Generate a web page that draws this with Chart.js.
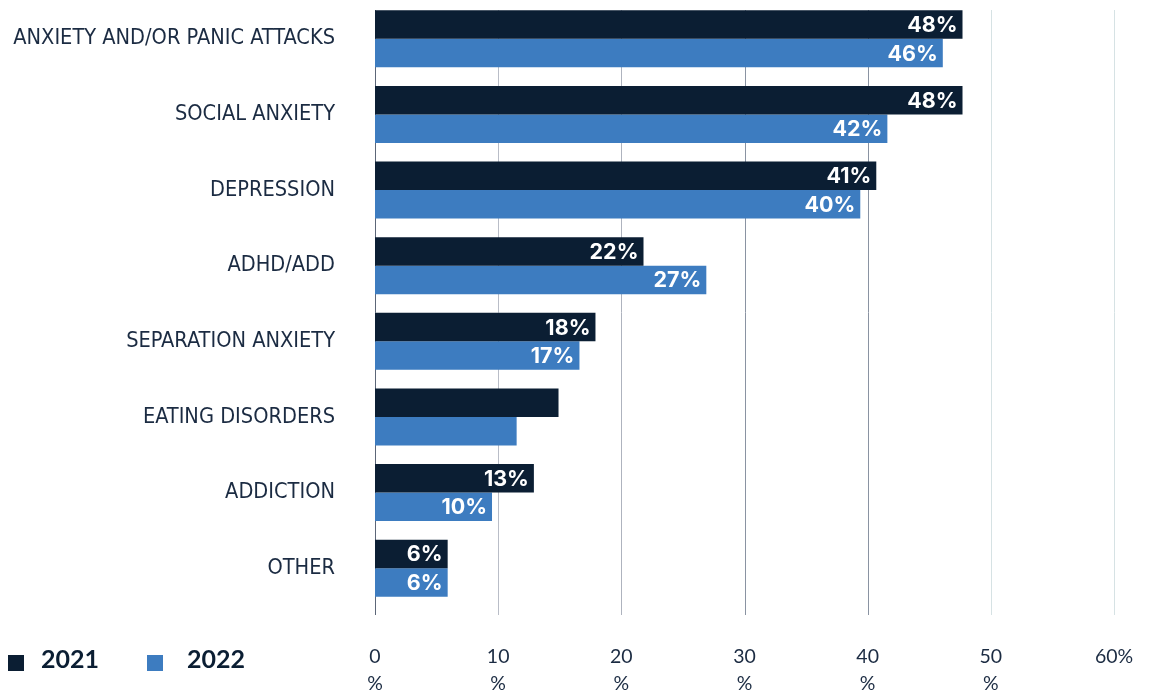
<!DOCTYPE html>
<html>
<head>
<meta charset="utf-8">
<script src="https://cdn.jsdelivr.net/npm/chart.js@4.4.1/dist/chart.umd.min.js"></script>
<style>
  html, body { margin: 0; padding: 0; background: #ffffff; }
  #wrap { width: 1151px; height: 692px; position: relative; }
</style>
</head>
<body>
<div id="wrap"><canvas id="myBarChart"></canvas></div>
<script>
// Dados do gráfico
const categories = [
  "ANXIETY AND/OR PANIC ATTACKS",
  "SOCIAL ANXIETY",
  "DEPRESSION",
  "ADHD/ADD",
  "SEPARATION ANXIETY",
  "EATING DISORDERS",
  "ADDICTION",
  "OTHER"
];
const seriesNames = ["2021", "2022"];
const values2021 = [47.7, 47.7, 40.7, 21.8, 17.9, 14.9, 12.9, 5.9];
const values2022 = [46.1, 41.6, 39.4, 26.9, 16.6, 11.5, 9.5, 5.9];
// valores impressos nas barras (null = sem rótulo)
const labels2021 = [48, 48, 41, 22, 18, null, 13, 6];
const labels2022 = [46, 42, 40, 27, 17, null, 10, 6];
const xTicks = [0, 10, 20, 30, 40, 50, 60];
const xTickLabels = [["0", "%"], ["10", "%"], ["20", "%"], ["30", "%"], ["40", "%"], ["50", "%"], "60%"];

// Cores
const navy = "#0b1e33";
const blue = "#3d7cc0";
const textColor = "#1b2b42";
const gridColors = ["#5c6678", "#b9bdc7", "#aeb3be", "#8a93a2", "#8a93a2", "#d6e2e4", "#d6e2e4"];

// linhas verticais da grade
const gridPlugin = {
  id: "customGrid",
  beforeDatasetsDraw(chart) {
    const ctx = chart.ctx;
    const x = chart.scales.x;
    ctx.save();
    ctx.lineWidth = 1;
    xTicks.forEach((v, i) => {
      const px = Math.round(x.getPixelForValue(v)) + 0.5;
      ctx.strokeStyle = gridColors[i];
      ctx.beginPath();
      ctx.moveTo(px, 10);
      ctx.lineTo(px, 615);
      ctx.stroke();
    });
    ctx.restore();
  }
};

// rótulos dentro das barras
const barLabels = [labels2021, labels2022];
const valueLabelPlugin = {
  id: "valueLabels",
  afterDatasetsDraw(chart) {
    const ctx = chart.ctx;
    ctx.save();
    ctx.fillStyle = "#ffffff";
    ctx.font = "bold 21.5px Inter";
    ctx.textAlign = "right";
    ctx.textBaseline = "middle";
    chart.data.datasets.forEach((ds, di) => {
      chart.getDatasetMeta(di).data.forEach((bar, i) => {
        const v = barLabels[di][i];
        if (v === null) return;
        ctx.fillText(v + "%", bar.x - 5, bar.y + 1);
      });
    });
    ctx.restore();
  }
};

// legenda no canto inferior esquerdo
const legendPlugin = {
  id: "bottomLegend",
  afterDraw(chart) {
    const ctx = chart.ctx;
    const items = [
      { box: 8, text: 41 },
      { box: 147, text: 187 }
    ];
    ctx.save();
    ctx.font = "bold 25px Lato";
    ctx.textBaseline = "middle";
    ctx.textAlign = "left";
    chart.data.datasets.forEach((ds, i) => {
      ctx.fillStyle = ds.backgroundColor;
      ctx.fillRect(items[i].box, 655, 16, 16);
      ctx.fillStyle = navy;
      ctx.fillText(ds.label, items[i].text, 660);
    });
    ctx.restore();
  }
};

let data = {
  labels: categories,
  datasets: [
    { label: seriesNames[0], data: values2021, backgroundColor: navy },
    { label: seriesNames[1], data: values2022, backgroundColor: blue }
  ]
};

let options = {
  indexAxis: "y",
  responsive: true,
  maintainAspectRatio: false,
  animation: false,
  layout: { padding: { top: 1, right: 37, bottom: 0, left: 0 } },
  datasets: {
    bar: { categoryPercentage: 0.754, barPercentage: 1.0 }
  },
  plugins: {
    legend: { display: false },
    tooltip: { enabled: false }
  },
  scales: {
    x: {
      min: 0,
      max: 60,
      afterBuildTicks: (scale) => { scale.ticks = xTicks.map(v => ({ value: v })); },
      afterFit: (scale) => {
        scale.height = 86;
        scale.paddingLeft = 0;
        scale.paddingRight = 0;
      },
      grid: { display: false, drawTicks: false },
      border: { display: false },
      ticks: {
        padding: 37,
        color: textColor,
        font: { family: "Lato", size: 19.5, lineHeight: 1.4 },
        maxRotation: 0,
        autoSkip: false,
        callback: (v, i) => xTickLabels[i]
      }
    },
    y: {
      afterFit: (scale) => {
        scale.width = 375;
        scale.paddingTop = 0;
        scale.paddingBottom = 0;
      },
      grid: { display: false, drawTicks: false },
      border: { display: false },
      ticks: {
        padding: 40,
        color: textColor,
        font: { family: "'Liberation Sans Narrow', 'DejaVu Sans Condensed', sans-serif", size: 21.6 }
      }
    }
  }
};

let ctxBar = document.getElementById("myBarChart").getContext("2d");
let myBarChart = new Chart(ctxBar, {
  type: "bar",
  data: data,
  options: options,
  plugins: [gridPlugin, valueLabelPlugin, legendPlugin]
});
</script>
</body>
</html>
